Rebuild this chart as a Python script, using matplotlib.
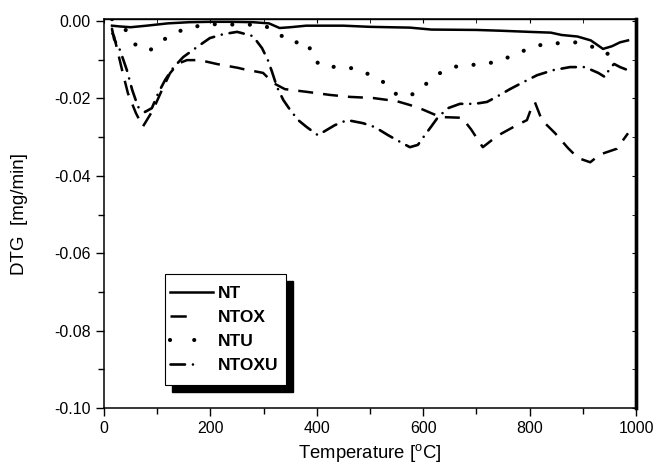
import matplotlib
matplotlib.use("Agg")
import matplotlib.pyplot as plt
from matplotlib.patches import Rectangle
from matplotlib.lines import Line2D
from matplotlib.ticker import MultipleLocator

plt.rcParams['font.family'] = ['Liberation Sans', 'DejaVu Sans']
plt.rcParams['axes.unicode_minus'] = False
plt.rcParams['mathtext.fontset'] = 'custom'
plt.rcParams['mathtext.rm'] = 'Liberation Sans'

# ---- data ----
nt_T = [15, 30, 50, 80, 120, 160, 200, 240, 280, 310, 330, 350, 380, 450, 500, 575,
        615, 700, 745, 800, 840, 860, 890, 915, 938, 955, 970, 985]
nt_V = [-0.0012, -0.0014, -0.0016, -0.0012, -0.0006, -0.0003, -0.0002, -0.0002, -0.0003,
        -0.0006, -0.0018, -0.0016, -0.0012, -0.0012, -0.0015, -0.0017, -0.0022, -0.0023,
        -0.0025, -0.0028, -0.0030, -0.0036, -0.0040, -0.0050, -0.0072, -0.0065, -0.0055,
        -0.0050]

ntox_T = [15, 19, 34, 45, 60, 73, 92, 109, 124, 139, 156, 180, 212, 252, 261, 299, 318,
          340, 381, 425, 462, 506, 550, 575, 598, 632, 673, 690, 712, 739, 776, 795, 804,
          810, 823, 848, 872, 891, 914, 932, 964, 985]
ntox_V = [-0.003, -0.004, -0.0127, -0.0187, -0.0238, -0.0273, -0.023, -0.0178, -0.0135,
          -0.011, -0.0101, -0.0101, -0.0111, -0.0121, -0.0124, -0.0134, -0.016, -0.0176,
          -0.0183, -0.0191, -0.0196, -0.0199, -0.0207, -0.0217, -0.0228, -0.0248, -0.025,
          -0.028, -0.0326, -0.0297, -0.0269, -0.0256, -0.0222, -0.021, -0.0256, -0.029,
          -0.0328, -0.0354, -0.0365, -0.0345, -0.0330, -0.029]

ntu_T = [15, 30, 43, 58, 85, 109, 135, 167, 203, 224, 260, 297, 325, 346, 368, 385, 390,
         412, 444, 477, 504, 528, 550, 570, 590, 605, 628, 654, 684, 718, 750, 776, 803,
         825, 857, 889, 919, 942, 960]
ntu_V = [0.0005, -0.001, -0.0026, -0.006, -0.0077, -0.0051, -0.0029, -0.0015, -0.0008,
         -0.0009, -0.0009, -0.001, -0.0026, -0.0055, -0.0055, -0.0057, -0.0095, -0.0119,
         -0.0118, -0.0124, -0.0142, -0.016, -0.019, -0.0195, -0.0183, -0.0163, -0.0137,
         -0.0119, -0.0114, -0.0111, -0.0100, -0.0083, -0.0070, -0.0060, -0.0057, -0.0055,
         -0.0067, -0.0086, -0.0080]

ntoxu_T = [15, 19, 30, 43, 53, 64, 77, 90, 102, 115, 130, 149, 175, 199, 224, 250, 256,
           280, 297, 308, 316, 325, 337, 350, 365, 381, 402, 434, 457, 487, 509, 534, 560,
           575, 590, 603, 617, 628, 647, 669, 697, 720, 739, 763, 788, 814, 844, 876, 904,
           929, 942, 951, 959, 970, 985]
ntoxu_V = [-0.002, -0.0047, -0.0075, -0.0127, -0.0178, -0.0222, -0.0235, -0.0225, -0.0186,
           -0.0152, -0.0121, -0.0093, -0.0067, -0.0044, -0.0034, -0.0028, -0.003, -0.0039,
           -0.007, -0.0101, -0.0132, -0.017, -0.0204, -0.023, -0.0256, -0.0274, -0.0295,
           -0.0269, -0.0256, -0.0264, -0.0274, -0.0295, -0.0315, -0.0326, -0.032, -0.0295,
           -0.0269, -0.0248, -0.0225, -0.0214, -0.0214, -0.0209, -0.0195, -0.0176, -0.0158,
           -0.014, -0.0127, -0.0119, -0.0119, -0.0134, -0.0145, -0.0121, -0.0111, -0.0119,
           -0.0127]

labels = ["NT", "NTOX", "NTU", "NTOXU"]
x_ticks = [0, 200, 400, 600, 800, 1000]
y_ticks = [0.00, -0.02, -0.04, -0.06, -0.08, -0.10]

W, H = 655, 466
fig = plt.figure(figsize=(6.55, 4.66), dpi=100)
ax = fig.add_axes([0.1588, 0.1245, 0.8122, 0.8345])

s_nt = dict(color='black', lw=1.8, linestyle='-')
s_ntox = dict(color='black', lw=1.8, linestyle=(0, (6, 4)))
s_ntu = dict(color='black', lw=3.0, linestyle=(0, (0.01, 4.2)), dash_capstyle='round')
s_ntoxu = dict(color='black', lw=1.9, linestyle=(0, (5.5, 3, 0.01, 3)), dash_capstyle='round')

ax.plot(nt_T, nt_V, **s_nt)
ax.plot(ntox_T, ntox_V, **s_ntox)
ax.plot(ntu_T, ntu_V, **s_ntu)
ax.plot(ntoxu_T, ntoxu_V, **s_ntoxu)

ax.set_xlim(0, 1000)
ax.set_ylim(-0.1, 0.0005)
ax.set_xticks(x_ticks)
ax.set_yticks(y_ticks)
ax.set_yticklabels([f"{v:.2f}" if v != 0 else "0.00" for v in y_ticks])
ax.xaxis.set_minor_locator(MultipleLocator(100))
ax.yaxis.set_minor_locator(MultipleLocator(0.01))
ax.tick_params(which='major', direction='out', length=6, width=1, labelsize=11.5,
               top=False, right=False)
ax.tick_params(which='minor', direction='out', length=4, width=1,
               top=False, right=False)

# inward ticks on top and right
axt = ax.secondary_xaxis('top')
axt.set_xticks(x_ticks)
axt.xaxis.set_minor_locator(MultipleLocator(100))
axt.tick_params(which='both', direction='in', length=3, labeltop=False)
axr = ax.secondary_yaxis('right')
axr.set_yticks(y_ticks)
axr.yaxis.set_minor_locator(MultipleLocator(0.01))
axr.tick_params(which='both', direction='in', length=3, labelright=False)
axt.spines['top'].set_linewidth(1.0)
axr.spines['right'].set_linewidth(2.4)

for s in ['left', 'bottom', 'top']:
    ax.spines[s].set_linewidth(1.1)
ax.spines['right'].set_linewidth(2.4)

ax.set_xlabel("Temperature [$^{\\rm o}$C]", fontsize=13.3, labelpad=4)
ax.set_ylabel("DTG  [mg/min]", fontsize=13.5, labelpad=19)

# legend proxies (Origin-style short samples)
handles = [
    Line2D([], [], color='black', lw=1.8, linestyle='-'),
    Line2D([], [], color='black', lw=1.8, linestyle=(0, (6.5, 40))),
    Line2D([], [], color='black', lw=3.0, linestyle=(0.0, (0.01, 5.8)), dash_capstyle='round'),
    Line2D([], [], color='black', lw=1.9, linestyle=(0, (5.5, 3, 0.01, 40)), dash_capstyle='round'),
]
leg = ax.legend(handles, labels, loc='upper left',
                bbox_to_anchor=(170 / W, 1 - 286 / H), bbox_transform=fig.transFigure,
                borderaxespad=0, frameon=False,
                prop={'weight': 'bold', 'size': 12.5}, handlelength=2.45,
                handletextpad=0.3, labelspacing=0.5, borderpad=0.0)
leg.set_zorder(6)

# Origin-style legend frame with solid black shadow
fx0, fx1, fy0, fy1 = 165, 286, 274, 385   # pixel box (top-left origin)
off = 6.5
frame = Rectangle((fx0 / W, 1 - fy1 / H), (fx1 - fx0) / W, (fy1 - fy0) / H,
                  transform=fig.transFigure, facecolor='white', edgecolor='black',
                  lw=0.8, zorder=5)
shadow = Rectangle(((fx0 + off) / W, 1 - (fy1 + off) / H), (fx1 - fx0) / W, (fy1 - fy0) / H,
                   transform=fig.transFigure, facecolor='black', edgecolor='black',
                   zorder=4.5)
for p in (shadow, frame):
    p.set_clip_on(False)
    ax.add_artist(p)

fig.savefig("out.png", dpi=100)
